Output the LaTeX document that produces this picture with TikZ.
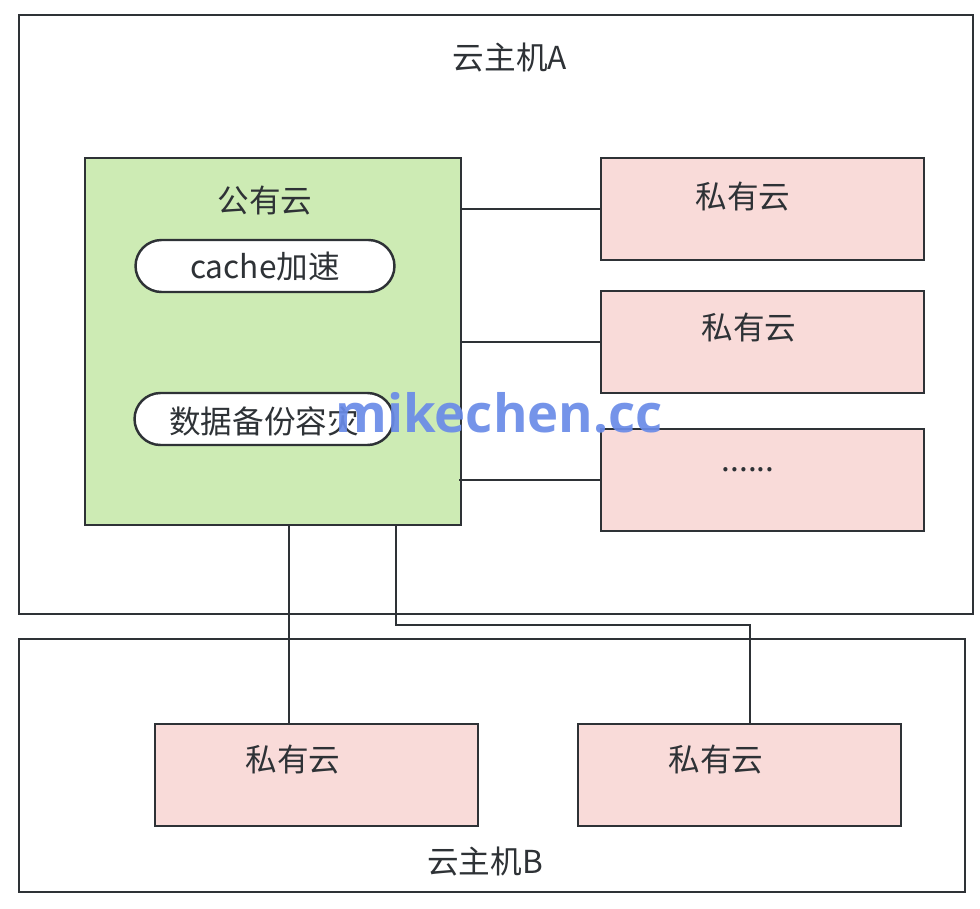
\documentclass[tikz,border=0pt]{standalone}
\usepackage{fontspec}
\setmainfont{Noto Sans CJK SC}
\newfontfamily\markfont{Open Sans}
\usepackage{tikz}
\usetikzlibrary{positioning, calc}

\definecolor{edge}{HTML}{2E3236}
\definecolor{pubgreen}{HTML}{CDEBB4}
\definecolor{privpink}{HTML}{F9DBD9}
\definecolor{markblue}{HTML}{6A8BE8}

\begin{document}
\begin{tikzpicture}[
    x=0.02cm, y=-0.02cm,
    line width=1.4pt, draw=edge,
    hostbox/.style={rectangle, draw=edge, fill=white, line width=1.4pt, anchor=north west},
    pubbox/.style={rectangle, draw=edge, fill=pubgreen, line width=1.4pt, anchor=north west,
        minimum width=7.52cm, minimum height=7.34cm},
    privbox/.style={rectangle, draw=edge, fill=privpink, line width=1.4pt, anchor=north west,
        minimum width=6.46cm, minimum height=2.04cm},
    pill/.style={rectangle, rounded corners=0.52cm, draw=edge, fill=white, line width=1.4pt,
        minimum width=5.18cm, minimum height=1.04cm},
    lbl/.style={text=edge, font=\fontsize{18}{21}\selectfont, inner sep=0pt},
    wire/.style={draw=edge, line width=1.4pt}
]
\useasboundingbox (0,0) rectangle (980,909);

% hosts
\node[hostbox, minimum width=19.08cm, minimum height=11.98cm] (hostA) at (18,14) {};
\node[hostbox, minimum width=18.92cm, minimum height=5.06cm] (hostB) at (18,638) {};
\node[lbl] (hostAtxt) at (510,58) {云主机A};
\node[lbl] (hostBtxt) at (485,862) {云主机B};

% public cloud
\node[pubbox] (pub) at (84,157) {};
\node[lbl] (pubtxt) at (265,201) {公有云};
\node[pill] (cache) at (265,266) {};
\node[lbl] (cachetxt) at (265,267) {cache加速};
\node[pill] (backup) at (264,419) {};
\node[lbl] (backuptxt) at (264,421) {数据备份容灾};

% private clouds
\node[privbox] (privA) at (600,157) {};
\node[lbl] (privAtxt) at (743,197) {私有云};
\node[privbox] (privB) at (600,290) {};
\node[lbl] (privBtxt) at (749,328) {私有云};
\node[privbox] (privC) at (600,428) {};
\node[lbl] (privCtxt) at (748,470) {......};
\node[privbox] (privD) at (154,723) {};
\node[lbl] (privDtxt) at (293,760) {私有云};
\node[privbox] (privE) at (577,723) {};
\node[lbl] (privEtxt) at (716,760) {私有云};

% links
\draw[wire] (pub.east |- privA.west) -- (privA.west);
\draw[wire] (pub.east |- privB.west) -- (privB.west);
\draw[wire] ([xshift=-0.06cm]pub.east |- privC.west) -- (privC.west);
\coordinate (downA) at (289,524);
\coordinate (downB) at (396,524);
\coordinate (turn) at (750,625);
\draw[wire] (downA) -- (downA |- privD.north);
\draw[wire] (downB) |- (turn) -- (turn |- privE.north);

% watermark
\node[text=markblue, opacity=0.92, inner sep=0pt,
      font=\markfont\bfseries\fontsize{30}{34}\selectfont] (mark) at (499,413) {mikechen.cc};
\end{tikzpicture}
\end{document}
